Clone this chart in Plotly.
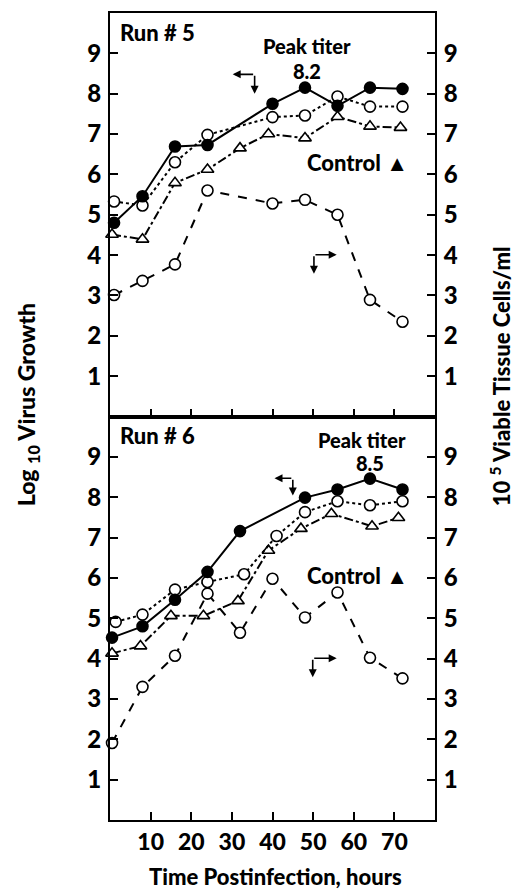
import plotly.graph_objects as go

# ---------------- data ----------------
# Run 5 (top panel)
r5_solid_x = [1, 8, 16, 24, 40, 48, 56, 64, 72]
r5_solid_y = [4.80, 5.46, 6.69, 6.73, 7.75, 8.15, 7.70, 8.15, 8.12]
r5_dot_x = [1, 8, 16, 24, 40, 48, 56, 64, 72]
r5_dot_y = [5.33, 5.23, 6.30, 6.98, 7.42, 7.46, 7.93, 7.68, 7.68]
r5_tri_x = [0.5, 8, 16, 24, 32, 39, 48, 56, 64, 71.5]
r5_tri_y = [4.51, 4.39, 5.79, 6.12, 6.65, 7.00, 6.90, 7.43, 7.19, 7.16]
r5_cells_x = [1, 8, 16, 24, 40, 48, 56, 64, 72]
r5_cells_y = [3.01, 3.36, 3.77, 5.60, 5.28, 5.37, 5.00, 2.89, 2.35]

# Run 6 (bottom panel)
r6_solid_x = [0.5, 8, 16, 24, 32, 48, 56, 64, 72]
r6_solid_y = [4.52, 4.80, 5.46, 6.15, 7.16, 7.99, 8.19, 8.46, 8.19]
r6_dot_x = [1.4, 8, 16, 24, 33, 41, 48, 56, 64, 72]
r6_dot_y = [4.91, 5.09, 5.71, 5.90, 6.09, 7.04, 7.63, 7.90, 7.80, 7.90]
r6_tri_x = [0.5, 7.5, 15, 23, 31.5, 39, 47, 54.5, 64.5, 71]
r6_tri_y = [4.13, 4.31, 5.06, 5.06, 5.43, 6.68, 7.22, 7.59, 7.28, 7.49]
r6_cells_x = [0.5, 8, 16, 24, 32, 40, 48, 56, 64, 72]
r6_cells_y = [1.91, 3.30, 4.07, 5.61, 4.64, 5.98, 5.02, 5.64, 4.02, 3.51]

x_ticks = [10, 20, 30, 40, 50, 60, 70]
y_ticks = [1, 2, 3, 4, 5, 6, 7, 8, 9]

FONT = "Lato"
BLACK = "black"
W = 900
NB = "\u00a0"

fig = go.Figure()


def add_series(xs, ys, xa, ya, dash, symbol, filled):
    fig.add_trace(go.Scatter(
        x=xs, y=ys, xaxis=xa, yaxis=ya, mode="lines+markers",
        line=dict(color=BLACK, width=2, dash=dash),
        marker=dict(symbol=symbol, size=11,
                    color=BLACK if filled else "white",
                    line=dict(color=BLACK, width=1.6)),
        showlegend=False, cliponaxis=False))


# top panel (x2, y2 / y4)
add_series(r5_cells_x, r5_cells_y, "x2", "y4", "dash", "circle", False)
add_series(r5_tri_x, r5_tri_y, "x2", "y2", "dashdot", "triangle-up", False)
add_series(r5_dot_x, r5_dot_y, "x2", "y2", "dot", "circle", False)
add_series(r5_solid_x, r5_solid_y, "x2", "y2", "solid", "circle", True)
# bottom panel (x, y / y3)
add_series(r6_cells_x, r6_cells_y, "x", "y3", "dash", "circle", False)
add_series(r6_tri_x, r6_tri_y, "x", "y", "dashdot", "triangle-up", False)
add_series(r6_dot_x, r6_dot_y, "x", "y", "dot", "circle", False)
add_series(r6_solid_x, r6_solid_y, "x", "y", "solid", "circle", True)

tickfont = dict(family=FONT, size=24, color=BLACK, weight=W)

xcommon = dict(range=[0, 80], tickvals=x_ticks, ticks="inside", ticklen=8,
               tickwidth=2, tickcolor=BLACK, showline=True, linewidth=2,
               linecolor=BLACK, mirror=True, showgrid=False, zeroline=False,
               tickfont=dict(family=FONT, size=23, color=BLACK, weight=W))
ycommon = dict(range=[0, 10], tickvals=y_ticks, ticks="inside", ticklen=8,
               tickwidth=2, tickcolor=BLACK, showline=True, linewidth=2,
               linecolor=BLACK, showgrid=False, zeroline=False,
               tickfont=tickfont, ticklabelstandoff=2)

fig.update_layout(
    width=519, height=893,
    margin=dict(l=110, r=84, t=13, b=73),
    plot_bgcolor="white", paper_bgcolor="white",
    xaxis=dict(**xcommon, anchor="y", domain=[0, 1]),
    xaxis2=dict(**xcommon, anchor="y2", matches="x", showticklabels=False),
    yaxis=dict(**ycommon, domain=[0, 0.5], anchor="x", side="left", mirror=True),
    yaxis2=dict(**ycommon, domain=[0.5, 1], anchor="x2", side="left", mirror=True),
    yaxis3=dict(**ycommon, overlaying="y", anchor="x", side="right"),
    yaxis4=dict(**ycommon, overlaying="y2", anchor="x2", side="right"),
)

ann = []


def label(text, x, y, xr, yr, xanchor="center", yanchor="middle", size=21):
    ann.append(dict(text=text, x=x, y=y, xref=xr, yref=yr, showarrow=False,
                    xanchor=xanchor, yanchor=yanchor, borderpad=0,
                    font=dict(family=FONT, size=size, color=BLACK, weight=W)))


label("Run" + NB + "#" + NB + "5", 2.2, 9.52, "x2", "y2", "left", "middle", 22)
label("Peak titer", 48.5, 9.17, "x2", "y2", "center", "middle", 20)
label("8.2", 48.5, 8.57, "x2", "y2", "center", "middle", 20)
label("Control ▲", 61.0, 6.3, "x2", "y2", "center", "middle", 22)

label("Run" + NB + "#" + NB + "6", 2.2, 9.53, "x", "y", "left", "middle", 22)
label("Peak titer", 62, 9.43, "x", "y", "center", "middle", 20)
label("8.5", 64, 8.84, "x", "y", "center", "middle", 20)
label("Control ▲", 61, 6.06, "x", "y", "center", "middle", 22)


def bent_arrow(xr, yr, cx, cy, hx, vy):
    # horizontal arrow from corner (cx,cy) to hx, vertical arrow down to vy
    ann.append(dict(x=hx, y=cy, ax=cx, ay=cy, xref=xr, yref=yr, axref=xr, ayref=yr,
                    showarrow=True, arrowhead=2, arrowsize=1, arrowwidth=1.6,
                    arrowcolor=BLACK, text=""))
    ann.append(dict(x=cx, y=vy, ax=cx, ay=cy, xref=xr, yref=yr, axref=xr, ayref=yr,
                    showarrow=True, arrowhead=2, arrowsize=1, arrowwidth=1.6,
                    arrowcolor=BLACK, text=""))


bent_arrow("x2", "y2", 35.6, 8.48, 30.2, 8.0)
bent_arrow("x2", "y2", 50.2, 4.01, 55.8, 3.54)
bent_arrow("x", "y", 45.0, 8.47, 40.5, 8.04)
bent_arrow("x", "y", 49.9, 4.01, 55.8, 3.54)

# axis titles
ann.append(dict(text="Log" + NB + "<sub>10</sub>" + NB + "Virus Growth", x=-0.255, y=0.514,
                xref="paper", yref="paper", showarrow=False, textangle=-90,
                xanchor="center", yanchor="middle",
                font=dict(family=FONT, size=23, color=BLACK, weight=W)))
ann.append(dict(text="10" + NB + "<sup>5</sup>" + NB + "Viable Tissue Cells/ml", x=1.2, y=0.55,
                xref="paper", yref="paper", showarrow=False, textangle=-90,
                xanchor="center", yanchor="middle",
                font=dict(family=FONT, size=22, color=BLACK, weight=W)))
ann.append(dict(text="Time Postinfection, hours", x=0.508, y=-0.0885,
                xref="paper", yref="paper", showarrow=False,
                xanchor="center", yanchor="bottom", borderpad=0,
                font=dict(family=FONT, size=22, color=BLACK, weight=W)))

fig.update_layout(annotations=ann)

fig.write_html("out.html", config={"displayModeBar": False},
               post_script="document.body.style.margin='0';document.body.style.overflow='hidden';")
